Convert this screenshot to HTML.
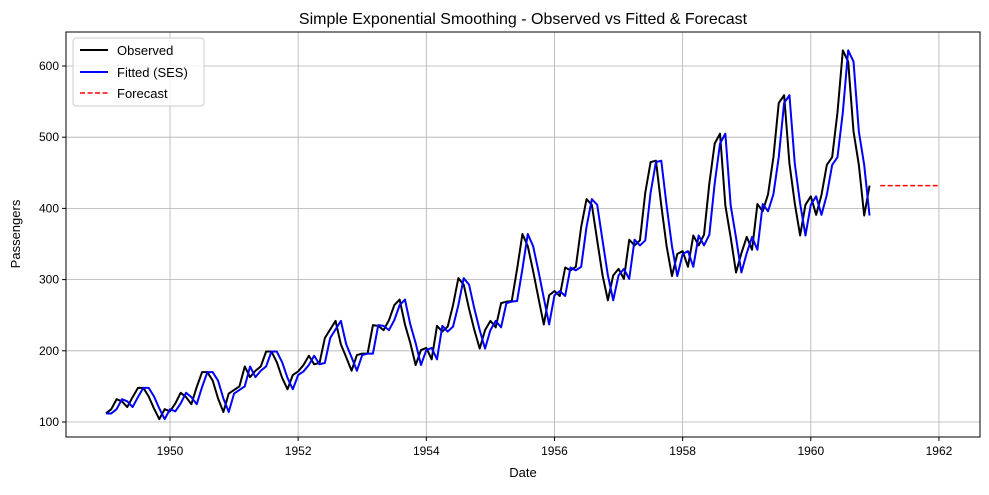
<!DOCTYPE html>
<html><head><meta charset="utf-8"><style>
body{margin:0;background:#fff;font-family:"Liberation Sans","DejaVu Sans",sans-serif;}
svg text{font-family:"Liberation Sans","DejaVu Sans",sans-serif;}
</style></head><body>
<svg id="chart" width="989" height="490" xmlns="http://www.w3.org/2000/svg">
<rect width="989" height="490" fill="#fff"/>
<g id="grid"></g>
<g id="series"></g>
<rect x="66" y="32" width="914" height="405" fill="none" stroke="#000" stroke-width="1"/>
<g id="axes"></g>
<text x="523" y="24" text-anchor="middle" font-size="16">Simple Exponential Smoothing - Observed vs Fitted &amp; Forecast</text>
<text x="523" y="477" text-anchor="middle" font-size="13">Date</text>
<text x="20" y="234" text-anchor="middle" font-size="13" transform="rotate(-90 20 234)">Passengers</text>
<g>
<rect x="73" y="38" width="131" height="68" rx="3" fill="#fff" fill-opacity="0.8" stroke="#ccc"/>
<g><line x1="80" y1="50" x2="108" y2="50" stroke="#000" stroke-width="2"/><text x="117" y="55" font-size="13">Observed</text></g>
<g><line x1="80" y1="72" x2="108" y2="72" stroke="#0000ff" stroke-width="2"/><text x="117" y="77" font-size="13">Fitted (SES)</text></g>
<g><line x1="80" y1="93" x2="108" y2="93" stroke="#ff0000" stroke-width="1.5" stroke-dasharray="5,2.5"/><text x="117" y="98" font-size="13">Forecast</text></g>
</g>
</svg>
<script>
const observed=[112,118,132,129,121,135,148,148,136,119,104,118,
115,126,141,135,125,149,170,170,158,133,114,140,
145,150,178,163,172,178,199,199,184,162,146,166,
171,180,193,181,183,218,230,242,209,191,172,194,
196,196,236,235,229,243,264,272,237,211,180,201,
204,188,235,227,234,264,302,293,259,229,203,229,
242,233,267,269,270,315,364,347,312,274,237,278,
284,277,317,313,318,374,413,405,355,306,271,306,
315,301,356,348,355,422,465,467,404,347,305,336,
340,318,362,348,363,435,491,505,404,359,310,337,
360,342,406,396,420,472,548,559,463,407,362,405,
417,391,419,461,472,535,622,606,508,461,390,432];
const fitted=[112,112,118,132,129,121,135,148,148,136,119,104,
118,115,126,141,135,125,149,170,170,158,133,114,
140,145,150,178,163,172,178,199,199,184,162,146,
166,171,180,193,181,183,218,230,242,209,191,172,
194,196,196,236,235,229,243,264,272,237,211,180,
201,204,188,235,227,234,264,302,293,259,229,203,
229,242,233,267,269,270,315,364,347,312,274,237,
278,284,277,317,313,318,374,413,405,355,306,271,
306,315,301,356,348,355,422,465,467,404,347,305,
336,340,318,362,348,363,435,491,505,404,359,310,
337,360,342,406,396,420,472,548,559,463,407,362,
405,417,391,419,461,472,535,622,606,508,461,390];
const forecast=[432,432,432,432,432,432,432,432,432,432,432,432];
const xTicks=[1950,1952,1954,1956,1958,1960,1962];
const yTicks=[100,200,300,400,500,600];
const startYear=1949;

const NS="http://www.w3.org/2000/svg";
function xs(t){return 170+(t-1950)*64.08;}
function ys(v){return 422-(v-100)*0.712;}
const grid=document.getElementById('grid'),axes=document.getElementById('axes'),ser=document.getElementById('series');
function mk(tag,attrs,parent){const e=document.createElementNS(NS,tag);for(const k in attrs)e.setAttribute(k,attrs[k]);parent.appendChild(e);return e;}
xTicks.forEach(t=>{const x=xs(t);
 const g=mk('line',{x1:x,x2:x,y1:32,y2:437,stroke:'#b0b0b0','stroke-width':0.8},grid);
 
 
 mk('line',{x1:x,x2:x,y1:437,y2:441,stroke:'#000'},axes);
 const tx=mk('text',{x:x,y:455,'text-anchor':'middle','font-size':12},axes);tx.textContent=t;
 
 });
yTicks.forEach(v=>{const y=ys(v);
 const g=mk('line',{x1:66,x2:980,y1:y,y2:y,stroke:'#b0b0b0','stroke-width':0.8},grid);
 
 
 mk('line',{x1:62,x2:66,y1:y,y2:y,stroke:'#000'},axes);
 const tx=mk('text',{x:59,y:y+4,'text-anchor':'end','font-size':12},axes);tx.textContent=v;
 
 });
function path(arr,off,color,w,dash,name){
 const d=arr.map((v,i)=>(i?'L':'M')+xs(startYear+(i+off)/12).toFixed(2)+','+ys(v).toFixed(2)).join('');
 const p=mk('path',{d:d,fill:'none',stroke:color,'stroke-width':w,'stroke-linejoin':'round'},ser);
 if(dash)p.setAttribute('stroke-dasharray',dash);
 
 }
path(observed,0,'#000',2,null,'observed-line');
path(fitted,0,'#0000ff',2,null,'fitted-line');
path(forecast,observed.length+1,'#ff0000',1.5,'5,2.5','forecast-line');
</script>
</body></html>
